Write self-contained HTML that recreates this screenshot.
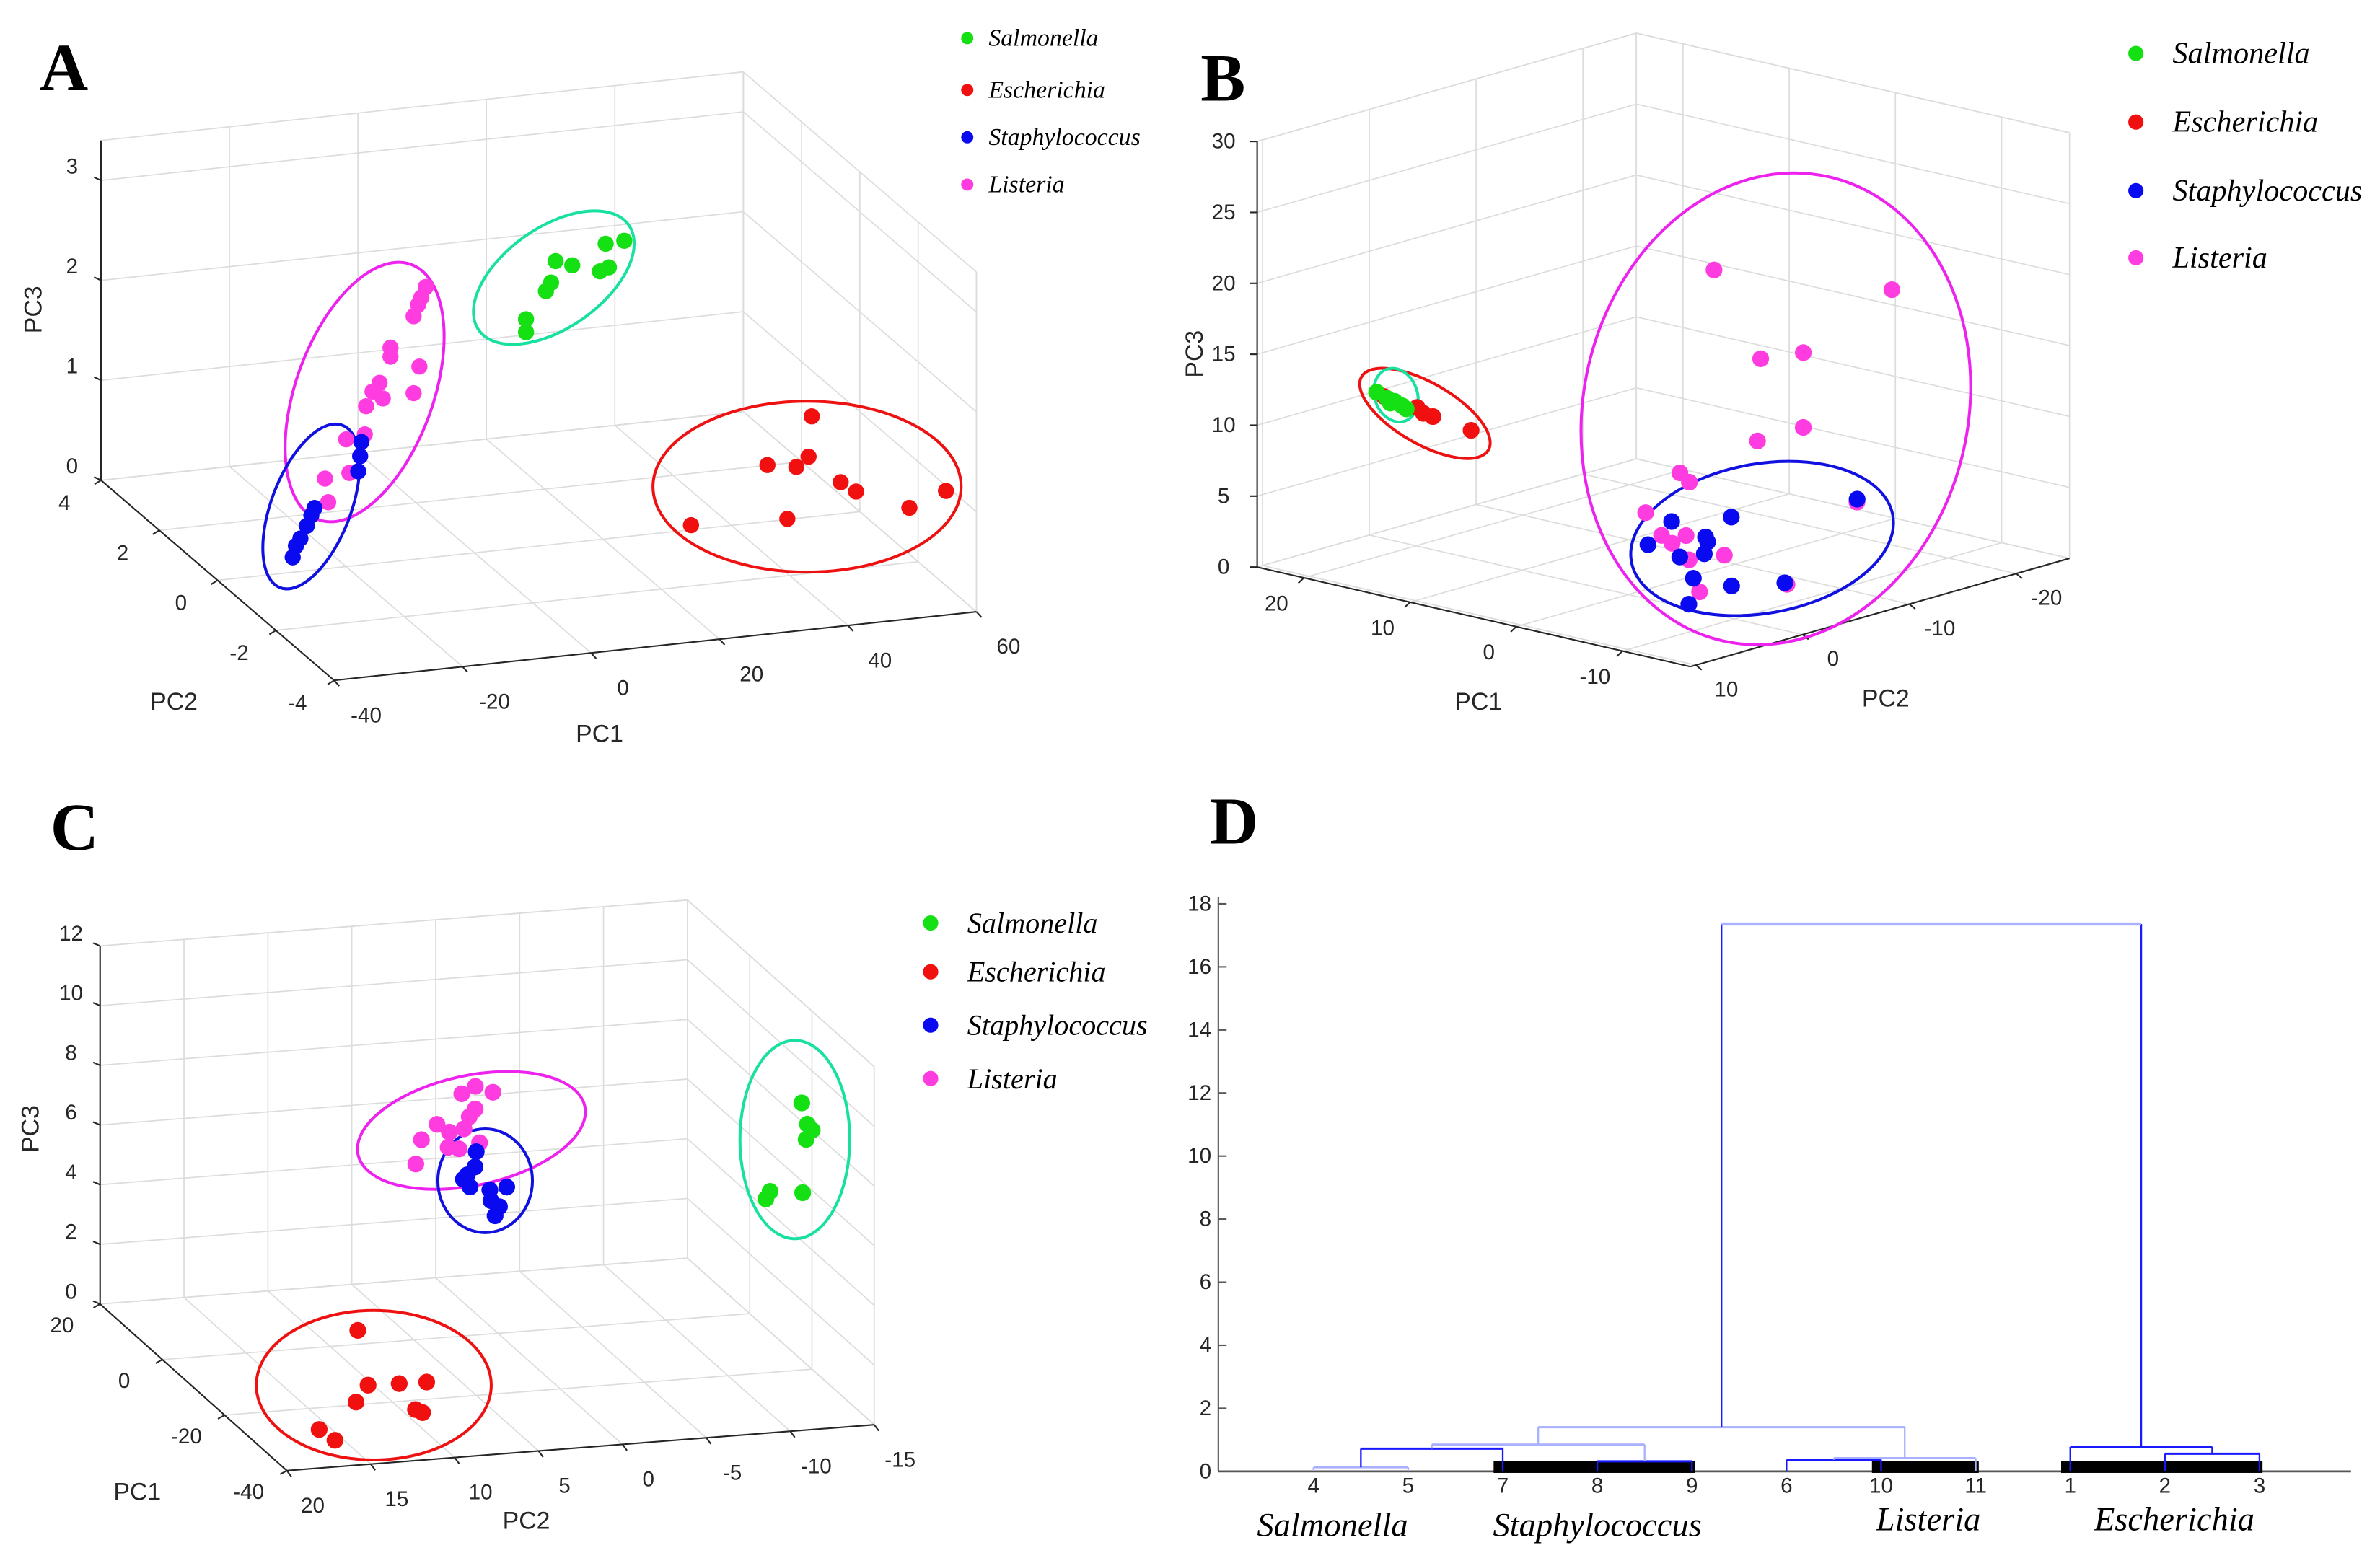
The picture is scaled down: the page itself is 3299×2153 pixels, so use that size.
<!DOCTYPE html>
<html><head><meta charset="utf-8"><style>
html,body{margin:0;padding:0;background:#fff;}
svg{display:block;}
.tk{font-family:"Liberation Sans",sans-serif;font-size:14px;fill:#262626;}
.ttl{font-family:"Liberation Sans",sans-serif;font-size:16px;fill:#262626;}
.lg{font-family:"Liberation Serif",serif;font-style:italic;fill:#000;}
.pl{font-family:"Liberation Serif",serif;font-weight:bold;font-size:44px;fill:#000;}
</style></head><body>
<svg id="fig" xmlns="http://www.w3.org/2000/svg" width="3299" height="2153" viewBox="0 0 1560 1018" preserveAspectRatio="none">
<rect width="1560" height="1018" fill="#fff"/>
<text class="pl" x="26" y="59">A</text>
<text class="pl" x="787" y="66">B</text>
<text class="pl" x="33" y="557">C</text>
<text class="pl" x="793" y="553">D</text>
<g id="gA"></g>
<g id="gB"></g>
<g id="gC"></g>
<g id="gD"></g>
</svg>
<script>
// ---------- Panel A data ----------
const aSalPC1=[29.5,32.4,21.7,24.3,28.6,30,21,20.2,17.1,17.1];
const aSalPC2=[2,2,2,2,2,2,2,2,2,2];
const aSalPC3=[2.39,2.40,2.27,2.21,2.12,2.15,2.06,1.98,1.72,1.59];
const aEscPC1=[38.9,32,36.5,38.4,43.4,45.8,59.8,54.1,35.1,20.1];
const aEscPC2=[-3,-3,-3,-3,-3,-3,-3,-3,-3,-3];
const aEscPC3=[1.85,1.41,1.36,1.45,1.16,1.05,0.96,0.83,0.85,0.89];
const aLisPC1=[1.5,0.8,0.3,-0.4,-4,-4,0.5,-5.7,-6.8,-5.2,-0.4,-7.8,-8,-10.9,-10.4,-14.2,-13.7];
const aLisPC2=[2,2,2,2,2,2,2,2,2,2,2,2,2,2,2,2,2];
const aLisPC3=[2.15,2.05,1.98,1.87,1.58,1.49,1.36,1.24,1.16,1.08,1.10,1.02,0.74,0.71,0.37,0.34,0.10];
const aStaPC1=[-28.3,-27.8,-27.1,-26.1,-25.4,-24.9,-18.1,-17.8,-17.6];
const aStaPC2=[0,0,0,0,0,0,0,0,0];
const aStaPC3=[0.15,0.26,0.33,0.45,0.55,0.62,0.94,1.09,1.23];
const aTicksPC1=[-40,-20,0,20,40,60];
const aTicksPC2=[-4,-2,0,2,4];
const aTicksPC3=[0,1,2,3];
// ---------- Panel B data ----------
const bSalPC1=[21.6,19.9,19.0,17.8,17.0,18.9];
const bSalPC2=[2.1,2.8,3.0,3.5,3.9,3.5];
const bSalPC3=[11,11,11,11,11,11];
const bEscPC1=[23.0,19.3,16.8,12.3,17.9];
const bEscPC2=[0.0,0.6,1.6,2.5,1.4];
const bEscPC3=[10,10,10,10,10];
const bLisPC1=[3.0,-4.7,-2.7,-3.8,-4.5,-2.0,4.0,1.8,3.7,1.3,-0.7,0.0,-2.0,-3.0,-5.8,-0.2,-9.0];
const bLisPC2=[-11.0,-20.0,-9.7,-12.6,-11.9,-10.1,-8.8,-7.5,-5.3,-4.4,-3.4,-5.4,-3.7,-6.0,-0.9,-21.2,-5.9];
const bLisPC3=[20,18,15,15,10,9,6,6,4,3,3,3,2,2,1,2,1];
const bStaPC1=[8.5,6.2,5.5,3.9,2.9,0.9,1.6,-3.0,-6.4,-8.6,-7.5,2.9];
const bStaPC2=[-12.5,-15.8,-7.3,-11.1,-10.3,-8.0,-6.4,-3.1,-3.3,-6.1,1.8,-24.3];
const bStaPC3=[1,1,1,1,1,1,1,1,1,1,1,1];
const bTicksPC1=[-10,0,10,20];
const bTicksPC2=[-20,-10,0,10];
const bTicksPC3=[0,5,10,15,20,25,30];
// ---------- Panel C data ----------
const cSalPC1=[-20.5,-27.7,-29.8,-32.7,-29.2,-31.6,-30.5];
const cSalPC2=[-14.3,-13.3,-13.2,-12.3,-10.8,-10.1,-12.5];
const cSalPC3=[9,9,9,9,7,7,7];
const cEscPC1=[4.6,-13.8,-14.1,-14.3,-19.1,-23.1,-24.3,-27.2,-31.2];
const cEscPC2=[7.5,10.3,8.5,6.9,12.0,9.2,9.0,15.7,15.5];
const cEscPC3=[0,0,0,0,0,0,0,0,0];
const cLisPC1=[11.1,13.2,10.8,5.7,3.3,11.5,8.6,9.3,6.8,3.6,4.3,-1.1,2.8];
const cLisPC2=[0.1,-1.1,-1.7,0.3,1.1,1.5,1.3,0.3,3.3,2.3,0.3,5.1,1.8];
const cLisPC3=[7,7,7,7,7,6,6,6,6,6,6,6,6];
const cStaPC1=[11.3,6.3,2.5,-0.2,-1.7,-1.2,-5.3,-7.5,-10.4,3.9];
const cStaPC2=[-0.8,0.2,1.6,1.7,0.8,-0.3,1.4,1.3,2.1,1.1];
const cStaPC3=[5,5,5,5,5,5,5,5,5,5];
const cTicksPC1=[-40,-20,0,20];
const cTicksPC2=[-15,-10,-5,0,5,10,15,20];
const cTicksPC3=[0,2,4,6,8,10,12];
// ---------- Panel D data ----------
const leafLabels=['4','5','7','8','9','6','10','11','1','2','3'];
const linkLeft=[0,0.5,3,1.25,5,5.5,2.375,9,8,4.3125];
const linkRight=[1,2,4,3.5,6,7,6.25,10,9.5,8.75];
const linkHeight=[0.13,0.72,0.32,0.85,0.37,0.42,1.4,0.56,0.78,17.36];
const linkLeftBase=[0,0.13,0,0.72,0,0.37,0.85,0,0,1.4];
const linkRightBase=[0,0,0,0.32,0,0,0.42,0,0.56,0.78];
const linkLight=[1,0,0,1,0,1,1,0,0,0];
const dTicks=[0,2,4,6,8,10,12,14,16,18];
const groupNames=['Salmonella','Staphylococcus','Listeria','Escherichia'];
const groupCenter=[0.2,3.0,6.5,9.1];
const barStart=[2,6,8];
const barEnd=[4,7,10];

const NS='http://www.w3.org/2000/svg';
function mk(parent,tag,attrs){const e=document.createElementNS(NS,tag);for(const k in attrs)e.setAttribute(k,attrs[k]);parent.appendChild(e);return e;}
const COL={sal:'#14e014',esc:'#f01010',sta:'#0a0af0',lis:'#ff3ce0'};

function panel3d(g,P){
  const pr=(x,y,z)=>[P.o[0]+P.ex[0]*(x-P.x0)+P.ey[0]*(y-P.y0), P.o[1]+P.ex[1]*(x-P.x0)+P.ey[1]*(y-P.y0)-P.ez*z];
  const grid=mk(g,'g',{});
  
  
  const ln=(a,b,c)=>mk(grid,'line',{x1:a[0],y1:a[1],x2:b[0],y2:b[1],stroke:c||'#dcdcdc','stroke-width':0.8});
  const xs=P.tx.concat([P.xr[0],P.xr[1]]), ys=P.ty.concat([P.yr[0],P.yr[1]]), zs=P.tz.concat([P.zr[1]]);
  xs.forEach(x=>{ln(pr(x,P.yr[0],0),pr(x,P.yr[1],0));ln(pr(x,P.wallY,0),pr(x,P.wallY,P.zr[1]));});
  ys.forEach(y=>{ln(pr(P.xr[0],y,0),pr(P.xr[1],y,0));ln(pr(P.wallX,y,0),pr(P.wallX,y,P.zr[1]));});
  zs.forEach(z=>{ln(pr(P.xr[0],P.wallY,z),pr(P.xr[1],P.wallY,z));ln(pr(P.wallX,P.yr[0],z),pr(P.wallX,P.yr[1],z));});
  // axes
  const ax=mk(g,'g',{stroke:'#262626','stroke-width':1});
  
  
  const al=(a,b)=>mk(ax,'line',{x1:a[0],y1:a[1],x2:b[0],y2:b[1]});
  al(pr(P.vx,P.vy,0),pr(P.vx,P.vy,P.zr[1]));
  al(pr(P.xr[0],P.a1y,0),pr(P.xr[1],P.a1y,0));
  al(pr(P.a2x,P.yr[0],0),pr(P.a2x,P.yr[1],0));
  const tick=(pt,off,lab,nm)=>{
    const L=Math.hypot(off[0],off[1]);const d=[off[0]/L*5,off[1]/L*5];
    al(pt,[pt[0]+d[0],pt[1]+d[1]]);
    const t=mk(g,'text',{x:pt[0]+off[0],y:pt[1]+off[1],'text-anchor':'middle','dominant-baseline':'central',class:'tk'});
    t.textContent=lab;
    
    
  };
  P.tz.forEach(z=>tick(pr(P.vx,P.vy,z),P.oz,String(z),'pc3-tick-label'));
  P.tx.forEach(x=>tick(pr(x,P.a1y,0),P.o1,String(x),'pc1-tick-label'));
  P.ty.forEach(y=>tick(pr(P.a2x,y,0),P.o2,String(y),'pc2-tick-label'));
  const tt=(x,y,s,rot,nm)=>{const t=mk(g,'text',{x:x,y:y,'text-anchor':'middle','dominant-baseline':'central',class:'ttl'});
    if(rot)t.setAttribute('transform','rotate(-90 '+x+' '+y+')');t.textContent=s;
    
    };
  tt(P.t3[0],P.t3[1],'PC3',true,'pc3-axis-title');
  tt(P.t1[0],P.t1[1],'PC1',false,'pc1-axis-title');
  tt(P.t2[0],P.t2[1],'PC2',false,'pc2-axis-title');
  // ellipses
  P.ell.forEach(e=>{const el=mk(g,'ellipse',{cx:0,cy:0,rx:e[2],ry:e[3],fill:'none',stroke:e[5],'stroke-width':1.9,transform:'translate('+e[0]+' '+e[1]+') rotate('+e[4]+')'});
    
    });
  // points
  P.series.forEach(s=>{
    const sg=mk(g,'g',{fill:COL[s.k]});
    
    
    s.x.forEach((v,i)=>{const p=pr(v,s.y[i],s.z[i]);const c=mk(sg,'circle',{cx:p[0],cy:p[1],r:P.r});
      
      });
  });
  // legend
  const names=[['sal','Salmonella'],['esc','Escherichia'],['sta','Staphylococcus'],['lis','Listeria']];
  names.forEach((n,i)=>{
    const lg=mk(g,'g',{});
    
    
    mk(lg,'circle',{cx:P.lg[0],cy:P.lg[1][i],r:P.lg[4],fill:COL[n[0]]});
    const t=mk(lg,'text',{x:P.lg[2],y:P.lg[1][i],'dominant-baseline':'central',class:'lg','font-size':P.lg[3]});
    t.textContent=n[1];
  });
}
const ser=(a,b,c,d,e,f,g,h,i,j,k,l)=>[
  {k:'sal',n:'salmonella',x:a,y:b,z:c},{k:'esc',n:'escherichia',x:d,y:e,z:f},
  {k:'lis',n:'listeria',x:g,y:h,z:i},{k:'sta',n:'staphylococcus',x:j,y:k,z:l}];

panel3d(document.getElementById('gA'),{o:[219,446],x0:-40,y0:-4,ex:[4.21,-0.45],ey:[-19.1,-16.4],ez:65.5,
  xr:[-40,60],yr:[-4,4],zr:[0,3.4],wallX:60,wallY:4,vx:-40,vy:4,a1y:-4,a2x:-40,
  tx:aTicksPC1,ty:aTicksPC2,tz:aTicksPC3,oz:[-19,-9],o1:[21,23],o2:[-24,15],
  t3:[22,203],t1:[393,481],t2:[114,460],r:5.3,
  ell:[[363,182,60,33,-35,'#18e0a0','salmonella'],[529,319,101,56,0,'#ee1111','escherichia'],[239,257,45,89,20,'#ee22ee','listeria'],[204,332,26,57,21,'#1010e0','staphylococcus']],
  series:ser(aSalPC1,aSalPC2,aSalPC3,aEscPC1,aEscPC2,aEscPC3,aLisPC1,aLisPC2,aLisPC3,aStaPC1,aStaPC2,aStaPC3),
  lg:[634,[25,59,90,121],648,16,4]});

panel3d(document.getElementById('gB'),{o:[1108,437],x0:-16.4,y0:10.5,ex:[-6.96,-1.6],ey:[-7.0,2.0],ez:9.3,
  xr:[-16.4,24.4],yr:[-25,10.5],zr:[0,30],wallX:24.4,wallY:-25,vx:24.4,vy:10.5,a1y:10.5,a2x:-16.4,
  tx:bTicksPC1,ty:bTicksPC2,tz:bTicksPC3,oz:[-22,0],o1:[-18,17],o2:[20,16],
  t3:[783,232],t1:[969,460],t2:[1236,458],r:5.5,
  ell:[[934,271,48,20,30,'#ee1111','escherichia'],[915,259,14,18,-20,'#18e0a0','salmonella'],[1164,268,126,156,13,'#ee22ee','listeria'],[1155,353,87,49,-10,'#1010e0','staphylococcus']],
  series:[{k:'esc',n:'escherichia',x:bEscPC1,y:bEscPC2,z:bEscPC3},{k:'sal',n:'salmonella',x:bSalPC1,y:bSalPC2,z:bSalPC3},
    {k:'lis',n:'listeria',x:bLisPC1,y:bLisPC2,z:bLisPC3},{k:'sta',n:'staphylococcus',x:bStaPC1,y:bStaPC2,z:bStaPC3}],
  lg:[1400,[35,80,125,169],1424,20,5]});

panel3d(document.getElementById('gC'),{o:[188,964],x0:-40,y0:20,ex:[-2.04,-1.82],ey:[-11.0,0.86],ez:19.56,
  xr:[-40,20],yr:[-15,20],zr:[0,12],wallX:20,wallY:-15,vx:20,vy:20,a1y:20,a2x:-40,
  tx:cTicksPC1,ty:cTicksPC2,tz:cTicksPC3,oz:[-19,-8],o1:[-25,14],o2:[17,23],
  t3:[20,740],t1:[90,978],t2:[345,997],r:5.5,
  ell:[[309,741,76,36,-12,'#ee22ee','listeria'],[318,774,31,34,0,'#1010e0','staphylococcus'],[521,747,36,65,0,'#18e0a0','salmonella'],[245,908,77,49,0,'#ee1111','escherichia']],
  series:ser(cSalPC1,cSalPC2,cSalPC3,cEscPC1,cEscPC2,cEscPC3,cLisPC1,cLisPC2,cLisPC3,cStaPC1,cStaPC2,cStaPC3),
  lg:[610,[605,637,672,707],634,19,5]});

// ---------- Dendrogram ----------
(function(){
  const g=document.getElementById('gD');
  const X=i=>861+i*62, Y=v=>964.5-v*20.67;
  const ax=mk(g,'g',{stroke:'#555','stroke-width':1});
  
  
  mk(ax,'line',{x1:798.6,y1:588,x2:798.6,y2:Y(0)});
  mk(ax,'line',{x1:798.6,y1:Y(0),x2:1541,y2:Y(0),'stroke-width':1.3});
  dTicks.forEach(v=>{mk(ax,'line',{x1:798.6,y1:Y(v),x2:804,y2:Y(v)});
    const t=mk(g,'text',{x:794,y:Y(v),'text-anchor':'end','dominant-baseline':'central',class:'tk','font-size':12});
    t.textContent=String(v);
    
    });
  barStart.forEach((s,i)=>{const r=mk(g,'rect',{x:X(s)-6,y:Y(0)-7,width:X(barEnd[i])-X(s)+8,height:8,fill:'#000'});
    
    });
  linkLeft.forEach((l,i)=>{
    const c=linkLight[i]?'#a8b0ff':'#1a1aff';
    const lg=mk(g,'g',{fill:'none','stroke-width':1.1});
    
    
    mk(lg,'line',{x1:X(l),y1:Y(linkLeftBase[i]),x2:X(l),y2:Y(linkHeight[i]),stroke:i==9?'#1a1aff':c});
    mk(lg,'line',{x1:X(linkRight[i]),y1:Y(linkRightBase[i]),x2:X(linkRight[i]),y2:Y(linkHeight[i]),stroke:i==9?'#1a1aff':c});
    mk(lg,'line',{x1:X(l),y1:Y(linkHeight[i]),x2:X(linkRight[i]),y2:Y(linkHeight[i]),stroke:i==9?'#a8b0ff':c,'stroke-width':i==9?2:1.4});
  });
  leafLabels.forEach((s,i)=>{const t=mk(g,'text',{x:X(i),y:974,'text-anchor':'middle','dominant-baseline':'central',class:'tk','font-size':12});
    t.textContent=s;
    
    });
  groupNames.forEach((s,i)=>{const t=mk(g,'text',{x:X(groupCenter[i]),y:i<2?1007:1003,'text-anchor':'middle',class:'lg','font-size':22});
    t.textContent=s;
    
    });
})();
</script>
</body></html>
